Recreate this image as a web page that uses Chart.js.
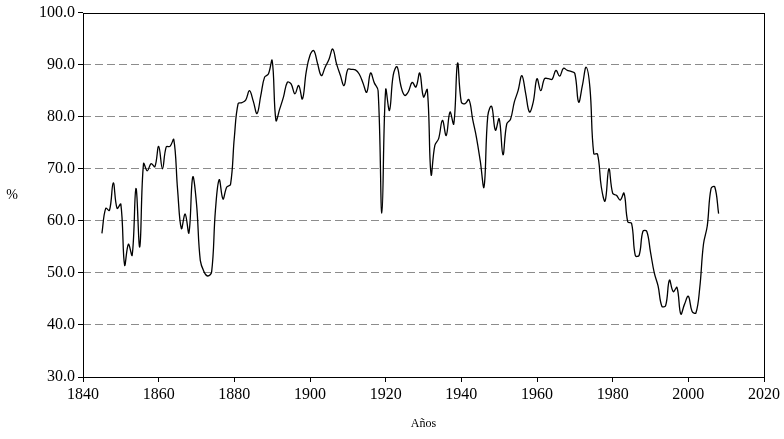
<!DOCTYPE html>
<html>
<head>
<meta charset="utf-8">
<script src="https://cdn.jsdelivr.net/npm/chart.js@4/dist/chart.umd.min.js"></script>
<style>
  html, body { margin: 0; padding: 0; background: #ffffff; }
  #wrap { width: 784px; height: 439px; }
</style>
</head>
<body>
<div id="wrap"><canvas id="c" width="784" height="439"></canvas></div>
<script>
const startYear = 1845;
const shareValues = [
  57.6, 62.4, 62.0, 67.3, 62.4, 63.2, 51.5, 55.5, 53.4, 66.2,
  55.0, 71.0, 69.6, 71.0, 70.4, 74.3, 70.0, 74.2, 74.3, 75.6,
  66.0, 58.5, 61.3, 57.7, 68.4, 63.3, 52.4, 50.2, 49.4, 50.2,
  62.0, 67.9, 64.2, 66.5, 67.0, 76.0, 82.5, 82.7, 83.2, 85.0,
  83.0, 80.6, 84.1, 87.6, 88.2, 90.8, 79.3, 81.5, 83.8, 86.6,
  86.3, 84.4, 86.0, 83.4, 88.6, 91.8, 92.7, 90.2, 87.9, 89.5,
  91.0, 93.0, 90.2, 88.0, 86.0, 89.1, 89.1, 89.0, 88.2, 86.5,
  84.7, 88.4, 86.5, 85.0, 61.5, 85.2, 81.2, 88.0, 89.6, 86.0,
  84.1, 84.8, 86.6, 85.7, 88.4, 83.8, 85.2, 68.9, 74.5, 75.8,
  79.3, 76.4, 80.9, 78.6, 90.3, 82.8, 82.5, 83.3, 79.5, 76.0,
  71.5, 66.5, 80.2, 82.0, 77.4, 79.6, 72.7, 78.6, 79.5, 82.8,
  85.0, 87.9, 84.5, 80.9, 82.8, 87.3, 85.0, 87.3, 87.3, 87.2,
  88.9, 87.8, 89.3, 88.9, 88.7, 88.3, 82.8, 86.0, 89.5, 85.5,
  72.9, 72.8, 66.5, 63.8, 70.0, 65.3, 64.9, 64.0, 65.3, 59.8,
  59.5, 53.3, 53.4, 58.0, 58.0, 54.0, 50.0, 47.5, 43.6, 43.7,
  48.6, 46.4, 47.2, 42.1, 44.0, 45.5, 42.6, 42.3, 47.0, 55.5,
  59.0, 66.2, 66.5, 61.4
];
const years = shareValues.map((v, i) => startYear + i);
const xTicks = [1840, 1860, 1880, 1900, 1920, 1940, 1960, 1980, 2000, 2020];
const yTicks = [30, 40, 50, 60, 70, 80, 90, 100];
const xTitle = 'Años';
const yTitle = '%';

const points = years.map((y, i) => ({ x: y, y: shareValues[i] }));
const FONT = "'Liberation Serif', 'Times New Roman', serif";

const framePlugin = {
  id: 'frame',
  afterDatasetsDraw(chart) {
    const { ctx, chartArea: a } = chart;
    ctx.save();
    ctx.strokeStyle = '#000';
    ctx.lineWidth = 1;
    ctx.setLineDash([]);
    ctx.strokeRect(Math.round(a.left) + 0.5, Math.round(a.top) + 0.5,
      Math.round(a.right - a.left), Math.round(a.bottom - a.top));
    ctx.restore();
  },
  afterDraw(chart) {
    const { ctx, chartArea: a } = chart;
    ctx.save();
    ctx.fillStyle = '#000';
    ctx.font = '14px ' + FONT;
    ctx.textAlign = 'center';
    ctx.textBaseline = 'middle';
    ctx.fillText(yTitle, 12, (a.top + a.bottom) / 2 + 1);
    ctx.restore();
  }
};

new Chart(document.getElementById('c'), {
  type: 'line',
  data: {
    datasets: [{
      data: points,
      borderColor: '#000',
      borderWidth: 1.3,
      pointRadius: 0,
      tension: 0.4,
      fill: false
    }]
  },
  options: {
    responsive: false,
    animation: false,
    events: [],
    layout: { padding: { left: 0, right: 20, top: 12, bottom: 0 } },
    plugins: { legend: { display: false }, tooltip: { enabled: false } },
    scales: {
      x: {
        type: 'linear',
        min: xTicks[0],
        max: xTicks[xTicks.length - 1],
        afterFit(s) { s.height = 62; },
        afterBuildTicks(s) { s.ticks = xTicks.map(v => ({ value: v })); },
        border: { display: false },
        grid: { drawOnChartArea: false, drawTicks: true, tickLength: 5, tickColor: '#000' },
        ticks: {
          color: '#000', font: { family: FONT, size: 16 }, padding: 3,
          maxRotation: 0, autoSkip: false,
          callback: v => String(v)
        },
        title: {
          display: true, text: xTitle, color: '#000',
          font: { family: FONT, size: 12 }, padding: { top: 0, bottom: 8 }
        }
      },
      y: {
        min: yTicks[0],
        max: yTicks[yTicks.length - 1],
        afterFit(s) { s.width = 83; },
        afterBuildTicks(s) { s.ticks = yTicks.map(v => ({ value: v })); },
        border: { display: false, dash: [8, 4] },
        grid: {
          drawOnChartArea: true, drawTicks: true, tickLength: 5,
          tickColor: '#000', tickBorderDash: [],
          color: ctx => (ctx.tick && (ctx.tick.value === 30 || ctx.tick.value === 100)) ? 'rgba(0,0,0,0)' : '#8c8c8c',
          lineWidth: 1
        },
        ticks: {
          color: '#000', font: { family: FONT, size: 16 }, padding: 3,
          callback: v => Number(v).toFixed(1)
        }
      }
    }
  },
  plugins: [framePlugin]
});
</script>
</body>
</html>
